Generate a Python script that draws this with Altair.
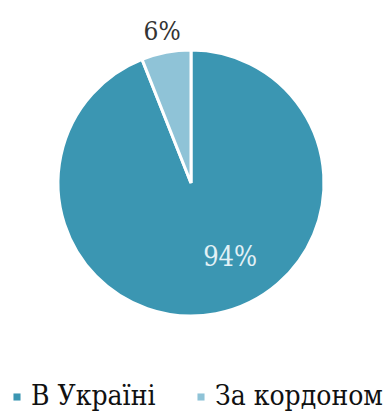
import altair as alt
import pandas as pd

categories = ["В Україні", "За кордоном"]
values = [94, 6]
labels = ["94%", "6%"]
colors = ["#3b96b2", "#8fc3d7"]

df = pd.DataFrame({"category": categories, "value": values, "label": labels})

CX, CY, R = 191, 183, 133
SERIF_C = "DejaVu Serif Condensed"

theta = alt.Theta("value:Q", stack=True)
color = alt.Color(
    "category:N",
    scale=alt.Scale(domain=categories, range=colors),
    sort=categories,
    legend=alt.Legend(
        title=None,
        orient="none",
        direction="horizontal",
        legendX=3,
        legendY=383,
        padding=0,
        symbolType="square",
        symbolSize=50,
        symbolStrokeWidth=0,
        labelFont=SERIF_C,
        labelFontSize=28,
        labelColor="#111111",
        labelOffset=0,
        columnPadding=31,
        labelLimit=400,
    ),
)
order = alt.Order("order:Q")

base = alt.Chart(df).transform_calculate(
    order="datum.category === 'В Україні' ? 0 : 1",
    outer_text="datum.category === 'За кордоном' ? datum.label : ''",
    inner_text="datum.category === 'В Україні' ? datum.label : ''",
)

pie = base.mark_arc(outerRadius=R, stroke="white", strokeWidth=3).encode(
    theta=theta,
    color=color,
    order=order,
    x=alt.value(CX),
    y=alt.value(CY),
)

txt_small = base.mark_text(
    radius=154, font=SERIF_C, fontSize=26, color="#333333",
    align="center", baseline="middle",
).encode(
    theta=theta, order=order, text="outer_text:N",
    x=alt.value(CX), y=alt.value(CY),
)

txt_big = base.mark_text(
    radius=85, thetaOffset=-0.29, font=SERIF_C, fontSize=27,
    color="#e2f1f6", align="center", baseline="middle",
).encode(
    theta=theta, order=order, text="inner_text:N",
    x=alt.value(CX), y=alt.value(CY),
)

chart = (
    alt.layer(pie, txt_small, txt_big)
    .properties(width=390, height=415, autosize=alt.AutoSizeParams(type="none"), padding=0, background="white")
    .configure_view(stroke=None)
)

chart.save("out.html", embed_options={"renderer": "svg", "actions": False})
